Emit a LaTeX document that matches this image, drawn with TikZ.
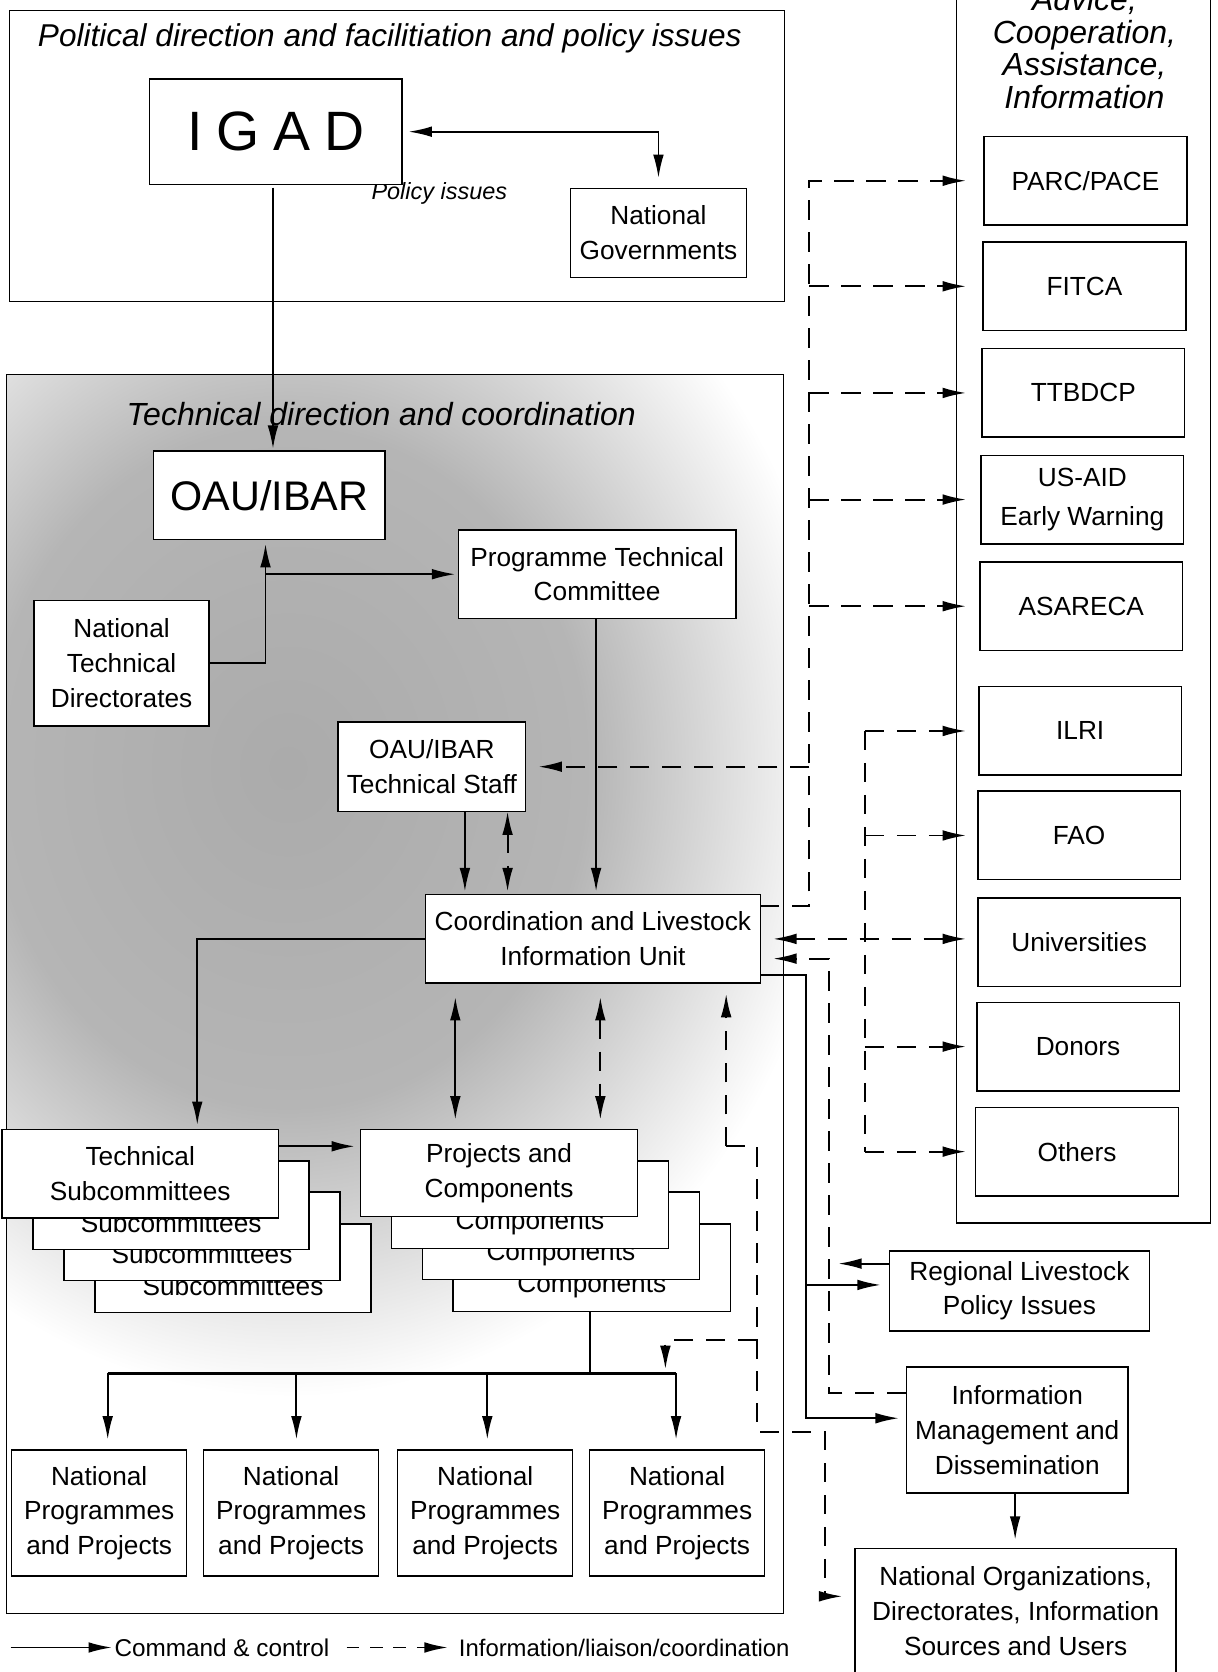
\documentclass[tikz,border=0pt]{standalone}
\usepackage{fontspec}
\setmainfont{Liberation Sans}
\usetikzlibrary{arrows.meta,calc}
\pgfdeclareradialshading{techshade}{\pgfpoint{0bp}{0bp}}{color(0bp)=(black!33); color(13.5bp)=(black!29); color(25bp)=(white); color(50bp)=(white)}
\newcommand\fsA{\fontsize{12.3pt}{16.3pt}\selectfont}
\begin{document}
\begin{tikzpicture}[x=0.5pt,y=-0.5pt,
  box/.style={draw, fill=white, line width=0.7pt, align=center, inner sep=1pt, outer sep=0pt, font=\fsA},
  rbox/.style={box, minimum width=95pt, minimum height=41.5pt},
  outerframe/.style={draw, line width=0.6pt},
  cmd/.style={line width=0.9pt, -{Latex[length=11pt,width=5pt]}},
  info/.style={cmd, dash pattern=on 9pt off 6pt},
  infoline/.style={line width=0.9pt, dash pattern=on 9pt off 6pt},
  dbl/.style={{Latex[length=11pt,width=5pt]}-{Latex[length=11pt,width=5pt]}},
]
\useasboundingbox (0,0) rectangle (1142,1568);

% shading of the technical area
\begin{scope}
  \clip (6,351) rectangle (735,1513);
  \shade[shading=techshade] (270,720) ellipse [x radius=520, y radius=590];
\end{scope}

% frames
\draw[outerframe] (9,10) rectangle (736,283);
\draw[outerframe] (6,351) rectangle (735,1513);
\draw[outerframe] (897,-20) rectangle (1135,1147);

% titles
\node[font=\itshape\fontsize{14.8pt}{18pt}\selectfont] (polT) at (365.5,36) {Political direction and facilitiation and policy issues};
\node[font=\itshape\fontsize{15pt}{18pt}\selectfont] (techT) at (357.5,388) {Technical direction and coordination};
\node[font=\itshape\fontsize{11pt}{13pt}\selectfont] (polI) at (412,181) {Policy issues};
\node[align=center, font=\itshape\fontsize{15pt}{15.25pt}\selectfont] (advT) at (1017,45) {Advice,\\Cooperation,\\Assistance,\\Information};

% nodes
\node[box, minimum width=118.5pt, minimum height=49.5pt, font=\fontsize{26pt}{30pt}\selectfont] (IGAD) at (258.5,123.5) {I\hspace{0.25em}G\hspace{0.25em}A\hspace{0.25em}D};
\node[box, minimum width=82.5pt, minimum height=41.5pt] (NatGov) at (617.5,218.5) {National\\Governments};
\node[box, minimum width=108.5pt, minimum height=41.5pt, font=\fontsize{19.4pt}{23pt}\selectfont] (OAU) at (252.5,464.5) {OAU/IBAR};
\node[box, minimum width=130pt, minimum height=41.5pt] (PTC) at (560,538.5) {Programme Technical\\Committee};
\node[box, minimum width=82pt, minimum height=59pt] (NTD) at (114,622) {National\\Technical\\Directorates};
\node[box, minimum width=88pt, minimum height=42pt] (TS) at (405,719) {OAU/IBAR\\Technical Staff};
\node[box, minimum width=157pt, minimum height=41.5pt] (CLIU) at (556,880.5) {Coordination and Livestock\\Information Unit};

\foreach \i/\dx/\dy in {4/87/89,3/58/59,2/29/30,1/0/0} {
  \node[box, minimum width=129.5pt, minimum height=41.5pt] (TSb\i) at (131.5+\dx,1100.5+\dy) {Technical\\Subcommittees};
  \node[box, minimum width=130pt, minimum height=41pt] (Pc\i) at (468+\dx,1100+\dy) {Projects and\\Components};
}
\foreach \i/\x in {1/93,2/273,3/455,4/635}
  \node[box, minimum width=82pt, minimum height=59pt] (NP\i) at (\x,1419) {National\\Programmes\\and Projects};

\node[rbox] (PARC) at (1018,169.5) {PARC/PACE};
\node[rbox] (FITCA) at (1017,268.5) {FITCA};
\node[rbox] (TTBDCP) at (1016,368.5) {TTBDCP};
\node[rbox, font=\fontsize{12.3pt}{18.5pt}\selectfont] (USAID) at (1015,468.5) {US-AID\\Early Warning};
\node[rbox] (ASARECA) at (1014,568.5) {ASARECA};
\node[rbox] (ILRI) at (1013,685.5) {ILRI};
\node[rbox] (FAO) at (1012,783.5) {FAO};
\node[rbox] (Univ) at (1012,883.5) {Universities};
\node[rbox] (Donors) at (1011,981.5) {Donors};
\node[rbox] (Others) at (1010,1080) {Others};

\node[box, minimum width=122pt, minimum height=37.5pt] (Regional) at (956,1210.5) {Regional Livestock\\Policy Issues};
\node[box, minimum width=104pt, minimum height=59pt] (InfoMgmt) at (954,1341) {Information\\Management and\\Dissemination};
\node[box, minimum width=150.5pt, minimum height=59pt] (NatOrg) at (952.5,1511) {National Organizations,\\Directorates, Information\\Sources and Users};

% helper coordinates
\coordinate (fl) at (906,0);
\coordinate (xA) at (759,0);
\coordinate (xB) at (811,0);
\coordinate (xC) at (777,0);
\coordinate (xD) at (756,0);
\coordinate (xIG) at (256,0);
\coordinate (xN) at (249,0);
\coordinate (xPT) at (559,0);
\coordinate (xT1) at (436,0);
\coordinate (xT2) at (476,0);
\coordinate (xP1) at (427,0);
\coordinate (xP2) at (563,0);
\coordinate (xS) at (185,0);
\coordinate (xBus) at (553,0);
\coordinate (busY) at (0,1288);
\coordinate (e0) at (681,1075);
\coordinate (e1) at (710,1075);
\coordinate (e2) at (710,1343);
\coordinate (e3) at (774,1343);
\coordinate (eb) at (710,1257);
\coordinate (c2) at ($(CLIU.east)+(0,18.5)$);
\coordinate (c3) at ($(CLIU.east)+(0,33.5)$);
\coordinate (im1) at ($(InfoMgmt.west)+(0,-11)$);
\coordinate (rg1) at ($(Regional.west)+(0,-5.5)$);

% command connectors
\draw[cmd, dbl, shorten <=3pt, shorten >=5pt] (IGAD.east) -| (NatGov.north);
\draw[cmd, shorten <=1.5pt, shorten >=1pt] (IGAD.south -| xIG) -- (OAU.north -| xIG);
\draw[cmd, shorten >=2pt] (NTD.east) -| (OAU.south -| xN);
\draw[cmd, shorten >=1.5pt] (xN |- PTC.west) -- (PTC.west);
\draw[cmd, shorten >=1.5pt] (PTC.south -| xPT) -- (CLIU.north -| xPT);
\draw[cmd, shorten >=1.5pt] (TS.south -| xT1) -- (CLIU.north -| xT1);
\draw[info, dbl, shorten >=1.5pt] (TS.south -| xT2) -- (CLIU.north -| xT2);
\draw[cmd, shorten >=2pt] (CLIU.west) -| (TSb1.north -| xS);
\draw[cmd, dbl, shorten <=6.5pt, shorten >=4.5pt] (CLIU.south -| xP1) -- (Pc1.north -| xP1);
\draw[info, dbl, shorten <=6.5pt, shorten >=4.5pt] (CLIU.south -| xP2) -- (Pc1.north -| xP2);
\draw[cmd, line width=1.1pt, shorten >=2.5pt] ($(TSb1.east)+(0,-25.5)$) -- ($(Pc1.west)+(0,-25)$);

% distribution bus
\draw[line width=1.1pt] (Pc4.south -| xBus) -- (xBus |- busY);
\draw[line width=1.1pt] ($(NP1.north)+(8,-72)$) -- ($(NP4.north)+(-1,-72)$);
\draw[cmd, shorten >=5pt] ($(NP1.north)+(8,-72)$) -- ($(NP1.north)+(8,0)$);
\draw[cmd, shorten >=5pt] ($(NP2.north)+(5,-72)$) -- ($(NP2.north)+(5,0)$);
\draw[cmd, shorten >=5pt] ($(NP3.north)+(2,-72)$) -- ($(NP3.north)+(2,0)$);
\draw[cmd, shorten >=5pt] ($(NP4.north)+(-1,-72)$) -- ($(NP4.north)+(-1,0)$);

% trunk A (information)
\draw[info] ($(CLIU.east)+(0,-30.5)$) -| (xA |- PARC.west) -- (fl |- PARC.west);
\foreach \n in {FITCA,TTBDCP,USAID,ASARECA}
  \draw[info] (xA |- \n.west) -- (fl |- \n.west);
\draw[info] (xA |- TS.east) -- ($(TS.east)+(12,0)$);

% trunk B
\draw[infoline] (xB |- ILRI.west) -- (xB |- Others.west);
\foreach \n in {ILRI,FAO,Donors,Others}
  \draw[info] (xB |- \n.west) -- (fl |- \n.west);
\draw[info, dbl, shorten <=6pt] (CLIU.east) -- (fl |- CLIU.east);

% return path from Information Management
\draw[info, shorten >=6pt] ($(InfoMgmt.west)+(0,-35)$) -| (xC |- c2) -- (c2);
\draw[cmd] ($(Regional.west)+(0,-25.5)$) -- ($(Regional.west)+(-48,-25.5)$);

% solid outputs of the unit
\draw[cmd, shorten >=3.5pt] (c3) -| (xD |- im1) -- (im1);
\draw[cmd, shorten >=4pt] (xD |- rg1) -- (rg1);
\draw[cmd, shorten >=4pt] ($(InfoMgmt.south)+(-2,0)$) -- ($(NatOrg.north)+(-0.5,0)$);

% lower information network
\draw[info, shorten >=5pt] (e0) -- (CLIU.south -| e0);
\draw[info, shorten >=6pt] (e0) -- (e1) -- (e2) -- (e3) |- ($(NatOrg.west)+(0,-14)$);
\draw[info] (eb) -| ($(NP4.north)+(-11,-76)$);

% legend
\coordinate (lg1) at (10,1545);
\coordinate (lg2) at (105,1545);
\coordinate (lg3) at (325,1545);
\coordinate (lg4) at (420,1545);
\draw[cmd] (lg1) -- (lg2);
\node[anchor=west, inner sep=0pt, font=\fontsize{11.4pt}{13pt}\selectfont] (lgA) at (107,1545) {Command \& control};
\draw[cmd, dash pattern=on 6pt off 5pt] (lg3) -- (lg4);
\node[anchor=west, inner sep=0pt, font=\fontsize{11.2pt}{13pt}\selectfont] (lgB) at (430,1545) {Information/liaison/coordination};
\end{tikzpicture}
\end{document}
